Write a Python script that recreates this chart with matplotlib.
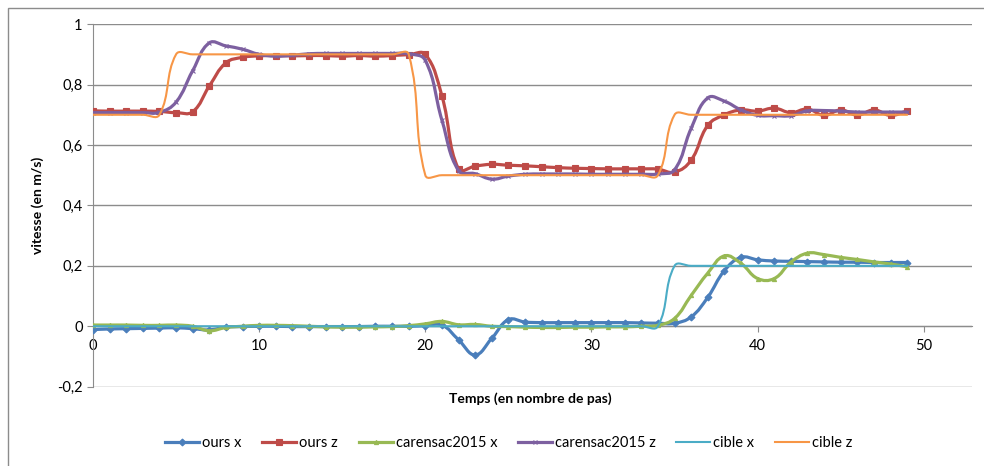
import numpy as np
import matplotlib
matplotlib.use("Agg")
import matplotlib.pyplot as plt
from matplotlib.path import Path
from matplotlib.patches import PathPatch, Rectangle
from matplotlib.lines import Line2D
from matplotlib.ticker import FuncFormatter

plt.rcParams['font.family'] = ['Lato', 'DejaVu Sans']

# pas de temps
steps = list(range(50))

ours_x = [-0.011, -0.009, -0.008, -0.007, -0.006, -0.005, -0.008, -0.012, -0.003, -0.001,
          0.0, 0.0, -0.001, -0.001, -0.001, -0.001, -0.001, 0.0, 0.0, 0.0,
          0.002, 0.004, -0.045, -0.095, -0.04, 0.022, 0.014, 0.012, 0.012, 0.012,
          0.012, 0.012, 0.012, 0.011, 0.01, 0.01, 0.031, 0.096, 0.184, 0.228,
          0.22, 0.216, 0.215, 0.214, 0.213, 0.212, 0.212, 0.211, 0.211, 0.211]

ours_z = [0.713, 0.712, 0.712, 0.712, 0.711, 0.707, 0.71, 0.795, 0.872, 0.89,
          0.895, 0.896, 0.895, 0.896, 0.896, 0.894, 0.896, 0.894, 0.896, 0.899,
          0.9, 0.762, 0.52, 0.53, 0.536, 0.533, 0.531, 0.528, 0.525, 0.523,
          0.522, 0.521, 0.521, 0.521, 0.52, 0.51, 0.55, 0.665, 0.70, 0.716,
          0.712, 0.722, 0.707, 0.719, 0.698, 0.716, 0.699, 0.716, 0.698, 0.713]

car_x = [0.004, 0.004, 0.004, 0.003, 0.003, 0.004, 0.0, -0.015, -0.004, 0.0,
         0.003, 0.003, 0.002, 0.0, -0.002, -0.003, -0.003, -0.002, -0.001, 0.002,
         0.008, 0.016, 0.005, 0.006, 0.0, -0.001, -0.003, -0.004, -0.004, -0.003,
         -0.003, -0.002, -0.002, 0.0, 0.003, 0.026, 0.102, 0.176, 0.233, 0.208,
         0.158, 0.158, 0.212, 0.242, 0.237, 0.228, 0.221, 0.213, 0.206, 0.197]

car_z = [0.707, 0.707, 0.707, 0.707, 0.708, 0.742, 0.846, 0.938, 0.928, 0.917,
         0.9, 0.894, 0.897, 0.902, 0.903, 0.903, 0.903, 0.903, 0.903, 0.902,
         0.88, 0.682, 0.515, 0.505, 0.487, 0.497, 0.503, 0.504, 0.504, 0.504,
         0.503, 0.503, 0.503, 0.503, 0.504, 0.518, 0.655, 0.756, 0.745, 0.716,
         0.698, 0.697, 0.697, 0.713, 0.714, 0.712, 0.709, 0.709, 0.709, 0.709]

cible_x = [0.0] * 35 + [0.2] * 15
cible_z = [0.7] * 5 + [0.9] * 15 + [0.5] * 15 + [0.7] * 15

series = [
    ("ours x", ours_x, "#4A7EBB", 2.3, "D", 3.5),
    ("ours z", ours_z, "#BE4B48", 2.3, "s", 4.0),
    ("carensac2015 x", car_x, "#98B954", 2.3, "^", 3.0),
    ("carensac2015 z", car_z, "#7D60A0", 2.3, "x", 3.0),
    ("cible x", cible_x, "#4BACC6", 1.5, None, 0),
    ("cible z", cible_z, "#F79646", 1.5, None, 0),
]

XSC, YSC = 16.6, 303.0   # px par unite, pour le lissage
TENSION = 0.42


# courbe lissee facon Excel (Bezier, tangentes ponderees par longueur des segments)
def smooth_path(xs, ys):
    pts = np.column_stack([xs, ys]).astype(float)
    scr = pts * [XSC, YSC]
    n = len(pts)

    def dist(a, b):
        return np.hypot(*(scr[b] - scr[a]))

    verts = [pts[0]]
    codes = [Path.MOVETO]
    for i in range(n - 1):
        i0 = max(i - 1, 0)
        i3 = min(i + 2, n - 1)
        d01, d12, d23 = dist(i0, i), dist(i, i + 1), dist(i + 1, i3)
        r1 = d12 / (d01 + d12) * TENSION if d01 + d12 > 0 else 0
        r2 = d12 / (d12 + d23) * TENSION if d12 + d23 > 0 else 0
        c1 = pts[i] + (pts[i + 1] - pts[i0]) * r1
        c2 = pts[i + 1] - (pts[i3] - pts[i]) * r2
        verts += [c1, c2, pts[i + 1]]
        codes += [Path.CURVE4] * 3
    return Path(verts, codes)


fig = plt.figure(figsize=(9.84, 4.66), dpi=100)
ax = fig.add_axes([0.0945, 0.1702, 0.8933, 0.778])

handles = []
for k, (name, vals, col, lw, mk, ms) in enumerate(series):
    patch = PathPatch(smooth_path(steps, vals), fill=False, edgecolor=col, lw=lw,
                      capstyle='round', joinstyle='round', zorder=3 + k)
    ax.add_patch(patch)
    if mk is not None:
        ax.plot(steps, vals, ls='none', marker=mk, ms=ms, color=col, mec=col,
                mew=0.8, zorder=3 + k)
    handles.append(Line2D([], [], color=col, lw=lw, marker=mk, ms=ms, mec=col, mew=0.8))

ax.set_xlim(0, 52.9)
ax.set_ylim(-0.2, 1.0)
ax.set_xticks([0, 10, 20, 30, 40, 50])
ax.set_yticks([-0.2, 0, 0.2, 0.4, 0.6, 0.8, 1.0])
ax.yaxis.set_major_formatter(FuncFormatter(lambda v, p: ("%g" % round(v, 1)).replace(".", ",")))

ax.grid(axis='y', color='#8c8c8c', lw=1)
ax.set_axisbelow(True)
for s in ['top', 'right']:
    ax.spines[s].set_visible(False)
ax.spines['bottom'].set_position(('data', 0))
ax.spines['bottom'].set_color('#8c8c8c')
ax.spines['left'].set_color('#8c8c8c')
ax.tick_params(axis='both', colors='#8c8c8c', labelcolor='black', labelsize=10.5,
               length=4, direction='out')
ax.tick_params(axis='x', pad=5)

ax.set_xlabel("Temps (en nombre de pas)", fontsize=10, fontweight='bold')
ax.xaxis.set_label_coords(0.497, -0.015)
ax.set_ylabel("vitesse (en m/s)", fontsize=10, fontweight='bold')
ax.yaxis.set_label_coords(-0.056, 0.5)

fig.legend(handles, [s[0] for s in series], loc='center', bbox_to_anchor=(0.517, 0.049),
           ncol=6, frameon=False, fontsize=10.5, handlelength=2.35, columnspacing=1.4,
           handletextpad=0.2, numpoints=1)

# cadre du graphique
fig.patches.append(Rectangle((8 / 984, -0.5), 2, 1.5 - 7.5 / 466, transform=fig.transFigure,
                             fill=False, edgecolor='#8c8c8c', lw=1))

fig.savefig("out.png", dpi=100)
